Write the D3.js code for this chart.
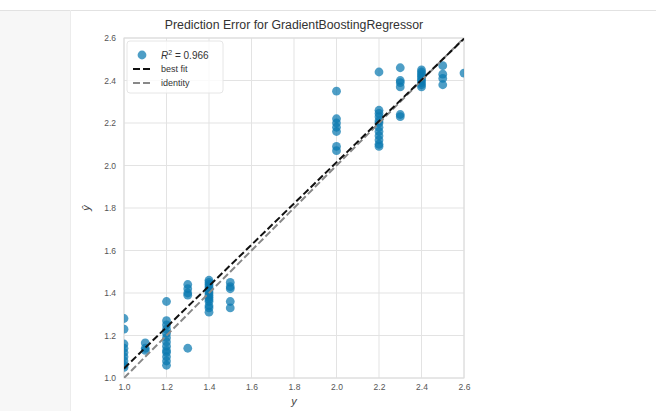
<!DOCTYPE html>
<html><head><meta charset="utf-8">
<script src="https://cdn.jsdelivr.net/npm/d3@7"></script>
<style>
html,body{margin:0;padding:0;background:#fff;}
svg{display:block;font-family:"Liberation Sans",Arial,sans-serif;}
</style></head>
<body>
<svg id="c" width="656" height="411"></svg>
<script>
// ---- data ----
const actualValues = [1.0, 1.1, 1.2, 1.3, 1.4, 1.5, 2.0, 2.2, 2.3, 2.4, 2.5, 2.6];
const predictedByActual = [
  [1.28, 1.23, 1.16, 1.14, 1.12, 1.10, 1.08, 1.06, 1.05],
  [1.165, 1.14, 1.13],
  [1.36, 1.27, 1.25, 1.23, 1.21, 1.19, 1.17, 1.15, 1.13, 1.12, 1.10, 1.08, 1.06],
  [1.44, 1.42, 1.40, 1.39, 1.14],
  [1.46, 1.45, 1.44, 1.43, 1.42, 1.41, 1.40, 1.39, 1.38, 1.37, 1.36, 1.34, 1.33, 1.31],
  [1.45, 1.43, 1.42, 1.36, 1.33],
  [2.35, 2.22, 2.20, 2.18, 2.16, 2.09, 2.07],
  [2.44, 2.26, 2.245, 2.23, 2.21, 2.20, 2.18, 2.16, 2.14, 2.12, 2.10, 2.09],
  [2.46, 2.40, 2.39, 2.37, 2.24, 2.23],
  [2.45, 2.44, 2.43, 2.42, 2.41, 2.40, 2.39, 2.38, 2.37],
  [2.47, 2.43, 2.41, 2.38],
  [2.435]
];
const axisTicks = [1.0, 1.2, 1.4, 1.6, 1.8, 2.0, 2.2, 2.4, 2.6];
const bestFitEnds = [[1.0, 1.045], [2.6, 2.597]];
const identityEnds = [[1.0, 1.0], [2.6, 2.6]];
const r2 = 0.966;
const titleText = "Prediction Error for GradientBoostingRegressor";

const points = [];
actualValues.forEach((a, i) => predictedByActual[i].forEach(p => points.push({y: a, yhat: p})));

// ---- layout ----
const svg = d3.select("#c");
// notebook chrome
svg.append("rect").attr("x",0).attr("y",0).attr("width",656).attr("height",411).attr("fill","#fff");
svg.append("rect").attr("x",0).attr("y",10).attr("width",70).attr("height",401).attr("fill","#f7f7f7");
svg.append("line").attr("x1",0).attr("x2",656).attr("y1",10.5).attr("y2",10.5).attr("stroke","#e2e2e2");
svg.append("line").attr("x1",70.5).attr("x2",70.5).attr("y1",10).attr("y2",411).attr("stroke","#ececec");

const L = 124, R = 464, T = 38, B = 378;
const x = d3.scaleLinear().domain([1.0, 2.6]).range([L, R]);
const y = d3.scaleLinear().domain([1.0, 2.6]).range([B, T]);

const g = svg.append("g");
// grid
g.selectAll(".gx").data(axisTicks).join("line")
  .attr("x1", d => x(d)).attr("x2", d => x(d)).attr("y1", T).attr("y2", B)
  .attr("stroke", "#e3e3e3").attr("stroke-width", 1);
g.selectAll(".gy").data(axisTicks).join("line")
  .attr("y1", d => y(d)).attr("y2", d => y(d)).attr("x1", L).attr("x2", R)
  .attr("stroke", "#e3e3e3").attr("stroke-width", 1);
// frame
g.append("rect").attr("x", L).attr("y", T).attr("width", R - L).attr("height", B - T)
  .attr("fill", "none").attr("stroke", "#dcdcdc").attr("stroke-width", 1);

// axes via d3
const fmt = d3.format(".1f");
const xa = g.append("g").attr("transform", `translate(0,${B})`)
  .call(d3.axisBottom(x).tickValues(axisTicks).tickFormat(fmt).tickSize(0).tickPadding(6));
const ya = g.append("g").attr("transform", `translate(${L},0)`)
  .call(d3.axisLeft(y).tickValues(axisTicks).tickFormat(fmt).tickSize(0).tickPadding(8));
[xa, ya].forEach(a => {
  a.select(".domain").remove();
  a.selectAll("text").attr("fill", "#555").attr("font-size", "8.5px")
    .attr("font-family", "'Liberation Sans',Arial,sans-serif");
});

// clip
svg.append("clipPath").attr("id", "clip").append("rect")
  .attr("x", L).attr("y", T).attr("width", R - L).attr("height", B - T);
const plot = svg.append("g").attr("clip-path", "url(#clip)");

const ptColor = "#0a78b0";
plot.selectAll("circle").data(points).join("circle")
  .attr("cx", d => x(d.y)).attr("cy", d => y(d.yhat)).attr("r", 4.4)
  .attr("fill", ptColor).attr("fill-opacity", 0.72);

const line = d3.line().x(d => x(d[0])).y(d => y(d[1]));
plot.append("path").attr("d", line(identityEnds)).attr("fill", "none")
  .attr("stroke", "#888").attr("stroke-width", 2).attr("stroke-dasharray", "7,3");
plot.append("path").attr("d", line(bestFitEnds)).attr("fill", "none")
  .attr("stroke", "#111").attr("stroke-width", 2).attr("stroke-dasharray", "7,3");

// title & labels
svg.append("text").attr("x", (L + R) / 2).attr("y", 29).attr("text-anchor", "middle")
  .attr("font-size", "12.3px").attr("fill", "#333").text(titleText);
svg.append("text").attr("x", (L + R) / 2).attr("y", 405).attr("text-anchor", "middle")
  .attr("font-size", "11px").attr("font-style", "italic").attr("fill", "#444").text("y");
svg.append("text").attr("transform", `translate(90,${(T + B) / 2}) rotate(-90)`)
  .attr("text-anchor", "middle").attr("font-size", "11px").attr("font-style", "italic")
  .attr("fill", "#444").text("ŷ");

// legend
const lg = svg.append("g");
lg.append("rect").attr("x", 127).attr("y", 41).attr("width", 96).attr("height", 52).attr("rx", 3)
  .attr("fill", "#fff").attr("fill-opacity", 0.8).attr("stroke", "#e6e6e6");
lg.append("circle").attr("cx", 142).attr("cy", 55).attr("r", 4.4).attr("fill", ptColor).attr("fill-opacity", 0.72);
const t1 = lg.append("text").attr("x", 161).attr("y", 58.5).attr("font-size", "10px").attr("fill", "#333");
t1.append("tspan").attr("font-style", "italic").text("R");
t1.append("tspan").attr("font-size", "7px").attr("dy", -4).text("2");
t1.append("tspan").attr("dy", 4).text(" = " + r2.toFixed(3));
lg.append("line").attr("x1", 133).attr("x2", 152).attr("y1", 69).attr("y2", 69)
  .attr("stroke", "#111").attr("stroke-width", 2).attr("stroke-dasharray", "7,3");
lg.append("text").attr("x", 161).attr("y", 72).attr("font-size", "9px").attr("fill", "#333").text("best fit");
lg.append("line").attr("x1", 133).attr("x2", 152).attr("y1", 83).attr("y2", 83)
  .attr("stroke", "#888").attr("stroke-width", 2).attr("stroke-dasharray", "7,3");
lg.append("text").attr("x", 161).attr("y", 86).attr("font-size", "9px").attr("fill", "#333").text("identity");
</script>
</body></html>
